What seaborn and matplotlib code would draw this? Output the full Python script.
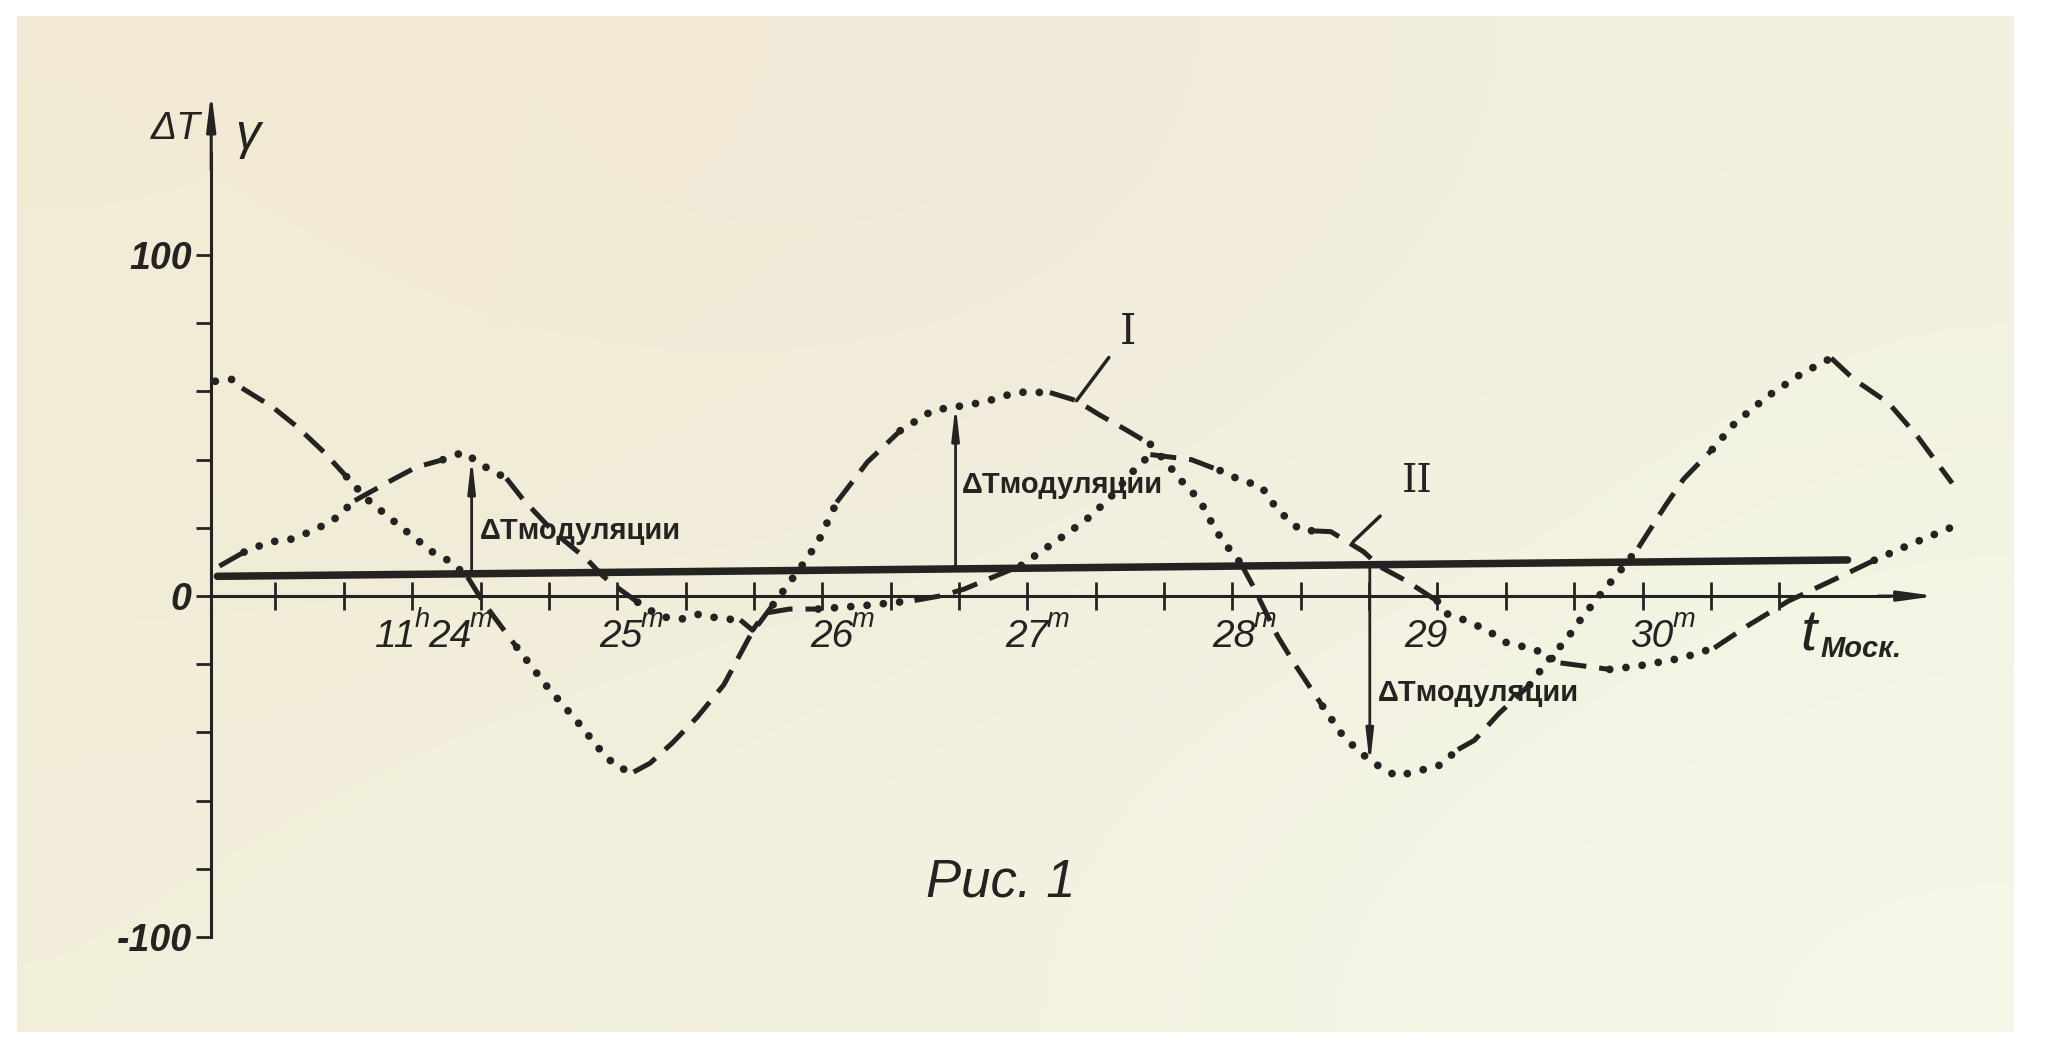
import numpy as np
import matplotlib
matplotlib.use("Agg")
import matplotlib.pyplot as plt
import seaborn as sns
from matplotlib import font_manager

# curve I (large swing) and curve II (small swing), time in minutes after 11h
t_one = [23.04, 23.13, 23.17, 23.32, 23.44, 23.57, 23.68, 23.78, 23.94, 24.10,
         24.19, 24.27, 24.35, 24.51, 24.66, 24.80, 24.93, 25.00, 25.08, 25.16,
         25.27, 25.39, 25.52, 25.65, 25.76, 25.89, 25.98, 26.07, 26.22, 26.38,
         26.54, 26.64, 26.79, 26.95, 27.11, 27.24, 27.35, 27.48, 27.60, 27.68,
         27.76, 27.84, 27.90, 27.95, 28.04, 28.10, 28.22, 28.30, 28.44, 28.53,
         28.61, 28.69, 28.80, 28.90, 29.01, 29.10, 29.18, 29.30, 29.45, 29.53,
         29.63, 29.70, 29.80, 29.91, 29.98, 30.11, 30.20, 30.34, 30.45, 30.61,
         30.78, 30.92, 31.03, 31.20, 31.34, 31.51]
dT_one = [63.0, 63.6, 61.0, 55.4, 49.6, 42.2, 35.0, 28.4, 20.5, 12.9,
          10.0, 5.6, -2.1, -15.0, -26.7, -36.4, -46.1, -50.2, -51.6, -49.0,
          -43.0, -35.5, -26.0, -11.4, -2.5, 8.0, 15.9, 27.5, 39.3, 48.5,
          54.5, 55.4, 56.9, 59.8, 59.7, 57.3, 53.2, 48.8, 44.5, 39.0,
          33.2, 28.2, 21.4, 16.4, 9.7, 3.0, -11.7, -19.6, -32.3, -40.2,
          -45.2, -49.0, -52.8, -51.4, -49.6, -45.0, -42.3, -34.4, -26.0, -19.6,
          -12.6, -6.7, 0.9, 8.8, 14.2, 26.4, 34.3, 43.0, 50.7, 58.6,
          65.4, 69.8, 63.6, 56.6, 46.9, 33.1]

t_two = [23.06, 23.18, 23.30, 23.41, 23.50, 23.61, 23.72, 23.91, 24.02, 24.15,
         24.25, 24.35, 24.46, 24.54, 24.69, 24.85, 24.93, 25.01, 25.10, 25.21,
         25.31, 25.40, 25.50, 25.60, 25.66, 25.72, 25.84, 25.98, 26.22, 26.45,
         26.58, 26.69, 26.83, 26.97, 27.06, 27.20, 27.31, 27.41, 27.52, 27.60,
         27.80, 27.94, 28.04, 28.14, 28.22, 28.33, 28.40, 28.48, 28.64, 28.72,
         28.85, 29.00, 29.05, 29.15, 29.25, 29.34, 29.47, 29.60, 29.84, 29.98,
         30.19, 30.35, 30.51, 30.71, 30.95, 31.13, 31.30, 31.54]
dT_two = [8.8, 12.9, 15.8, 16.7, 18.8, 22.0, 28.0, 34.3, 37.8, 40.0,
          42.2, 38.1, 34.5, 28.4, 18.8, 10.9, 5.9, 2.1, -1.8, -6.0,
          -6.8, -5.3, -6.6, -7.0, -10.0, -5.0, -3.8, -3.8, -2.7, -1.3,
          0.1, 2.0, 5.5, 9.0, 12.8, 18.6, 23.5, 29.3, 36.9, 41.5,
          40.0, 36.8, 34.0, 32.2, 25.3, 19.4, 19.1, 18.9, 13.0, 8.6,
          4.4, -1.5, -5.3, -7.4, -10.3, -13.8, -15.5, -19.6, -21.5, -20.5,
          -18.2, -15.2, -8.8, -1.5, 5.3, 10.5, 15.0, 21.0]

# the thick reference line
t_base = [23.05, 31.0]
dT_base = [5.8, 10.6]

# times where the drawing switches between dots and dashes
breaks_one = [23.04, 23.17, 23.68, 24.27, 24.51, 25.08, 25.76, 26.07, 26.38, 27.11,
              27.60, 28.04, 28.44, 29.10, 29.45, 29.98, 30.34, 30.92, 31.51]
breaks_two = [23.06, 23.18, 23.72, 24.15, 24.46, 25.10, 25.60, 25.98, 26.45, 26.97,
              27.60, 27.94, 28.40, 29.00, 29.60, 29.84, 30.35, 31.13, 31.54]

# modulation arrows: time, from (reference line), to (curve)
mod_t = [24.29, 26.65, 28.67]
mod_from = [6.4, 7.9, 9.5]
mod_to = [40.8, 56.3, -49.6]
mod_text_t = [24.33, 26.68, 28.71]
mod_text_v = [19.0, 32.5, -28.5]

y_ticks = [-100, -80, -60, -40, -20, 0, 20, 40, 60, 80, 100]
y_labels = ['-100', '', '', '', '', '0', '', '', '', '', '100']
x_ticks = [23 + k / 3 for k in range(1, 24)]
# time labels: left edge and (text, superscript?) pieces
x_label_left = [23.82, 24.91, 25.94, 26.89, 27.90, 28.84, 29.94]
x_label_parts = [[('11', False), ('h', True), ('24', False), ('m', True)],
                 [('25', False), ('m', True)],
                 [('26', False), ('m', True)],
                 [('27', False), ('m', True)],
                 [('28', False), ('m', True)],
                 [('29', False)],
                 [('30', False), ('m', True)]]

INK = '#242322'
DOT = (0, (0.001, 2.1))
DASH = (0, (5.2, 2.6))

sns.set_theme(style="white")
names = {f.name for f in font_manager.fontManager.ttflist}
hand = next(n for n in ['Liberation Sans Narrow', 'Liberation Sans', 'DejaVu Sans']
            if n in names)
plt.rcParams['font.family'] = [hand, 'DejaVu Sans']

fig = plt.figure(figsize=(20.67, 10.51), dpi=100, facecolor='white')

# paper
bg = fig.add_axes([17 / 2067, 1 - 1032 / 1051, 1997 / 2067, 1016 / 1051], zorder=0)
paper = np.array([[[243, 235, 212], [240, 231, 216], [242, 241, 222]],
                  [[241, 238, 219], [243, 242, 225], [245, 247, 231]]]) / 255
bg.imshow(paper, aspect='auto', interpolation='bicubic')
bg.axis('off')

ax = fig.add_axes([0, 0, 1, 1], zorder=1)
ax.set_facecolor('none')
ax.set_xlim(21.99, 32.07)
ax.set_ylim(-133.4, 174.8)


def draw_curve(t, v, breaks, first):
    t = np.array(t)
    v = np.array(v)
    styles = [first, 'dash' if first == 'dot' else 'dot']
    for k in range(len(breaks) - 1):
        sel = (t >= breaks[k] - 1e-9) & (t <= breaks[k + 1] + 1e-9)
        if styles[k % 2] == 'dot':
            sns.lineplot(x=t[sel], y=v[sel], ax=ax, color=INK, lw=5.6, linestyle=DOT,
                         dash_capstyle='round', sort=False, estimator=None, legend=False)
        else:
            sns.lineplot(x=t[sel], y=v[sel], ax=ax, color=INK, lw=3.6, linestyle=DASH,
                         dash_capstyle='butt', sort=False, estimator=None, legend=False)


sns.lineplot(x=t_base, y=dT_base, ax=ax, color=INK, lw=5.4, solid_capstyle='round',
             estimator=None, legend=False)
draw_curve(t_one, dT_one, breaks_one, 'dot')
draw_curve(t_two, dT_two, breaks_two, 'dash')

# axes
for s in ['top', 'right']:
    ax.spines[s].set_visible(False)
ax.spines['left'].set_position(('data', 23.02))
ax.spines['left'].set_bounds(-100, 130)
ax.spines['bottom'].set_position(('data', 0))
ax.spines['bottom'].set_bounds(23.02, 31.2)
for s in ['left', 'bottom']:
    ax.spines[s].set_color(INK)
    ax.spines[s].set_linewidth(2.2)
ax.annotate('', xy=(23.02, 148), xytext=(23.02, 125),
            arrowprops=dict(arrowstyle='-|>,head_length=1.8,head_width=0.22', lw=2.2,
                            color=INK, shrinkA=0, shrinkB=0))
ax.annotate('', xy=(31.43, 0), xytext=(31.15, 0),
            arrowprops=dict(arrowstyle='-|>,head_length=1.8,head_width=0.25', lw=2.2,
                            color=INK, shrinkA=0, shrinkB=0))

ax.set_yticks(y_ticks)
ax.set_yticklabels(y_labels)
ax.tick_params(axis='y', direction='out', length=11, width=2, pad=3,
               labelsize=27, colors=INK, left=True)
for lbl in ax.get_yticklabels():
    lbl.set_fontstyle('italic')
    lbl.set_fontweight('bold')
ax.set_xticks(x_ticks)
ax.set_xticklabels([])
ax.tick_params(axis='x', direction='inout', length=20, width=2, colors=INK, bottom=True)

renderer = fig.canvas.get_renderer()


def chain_label(t_left, v, parts, size):
    off = 0.0
    for txt, sup in parts:
        fs = size * 0.7 if sup else size
        dy = size * 0.45 if sup else 0
        a = ax.annotate(txt, xy=(t_left, v), xytext=(off, dy), textcoords='offset points',
                        fontsize=fs, color=INK, ha='left', va='center', style='italic')
        off += a.get_window_extent(renderer).width * 72 / fig.dpi - 1


for tl, parts in zip(x_label_left, x_label_parts):
    chain_label(tl, -12, parts, 28)
ax.text(30.85, -11.5, 't', fontsize=42, color=INK, ha='right', va='center', style='italic')
ax.text(30.87, -15.5, 'Моск.', fontsize=21, color=INK, ha='left', va='center',
        style='italic', weight='bold')

ax.text(22.97, 137, 'ΔT', fontsize=28, color=INK, ha='right', va='center', style='italic')
ax.text(23.20, 135, 'γ', fontsize=36, color=INK, ha='center', va='center', style='italic')

# modulation depth arrows
for tm, a, b in zip(mod_t, mod_from, mod_to):
    ax.annotate('', xy=(tm, b), xytext=(tm, a),
                arrowprops=dict(arrowstyle='-|>,head_length=1.6,head_width=0.18', lw=2,
                                color=INK, shrinkA=0, shrinkB=0))
for tm, vv in zip(mod_text_t, mod_text_v):
    ax.text(tm, vv, 'ΔTмодуляции', fontsize=21, color=INK, weight='bold',
            ha='left', va='center')

ax.annotate('I', xy=(27.24, 57.3), xytext=(27.49, 77.4), fontsize=30, color=INK,
            family='DejaVu Serif', ha='center', va='center',
            arrowprops=dict(arrowstyle='-', lw=2.5, color=INK, shrinkA=9, shrinkB=0))
ax.annotate('II', xy=(28.59, 16.0), xytext=(28.90, 33.7), fontsize=28, color=INK,
            family='DejaVu Serif', ha='center', va='center',
            arrowprops=dict(arrowstyle='-', lw=2.5, color=INK, shrinkA=18, shrinkB=0))

ax.text(26.87, -84, 'Рис. 1', fontsize=38, color=INK, ha='center', va='center',
        style='italic')

ax.grid(False)
fig.savefig('out.png', dpi=100, facecolor='white')
